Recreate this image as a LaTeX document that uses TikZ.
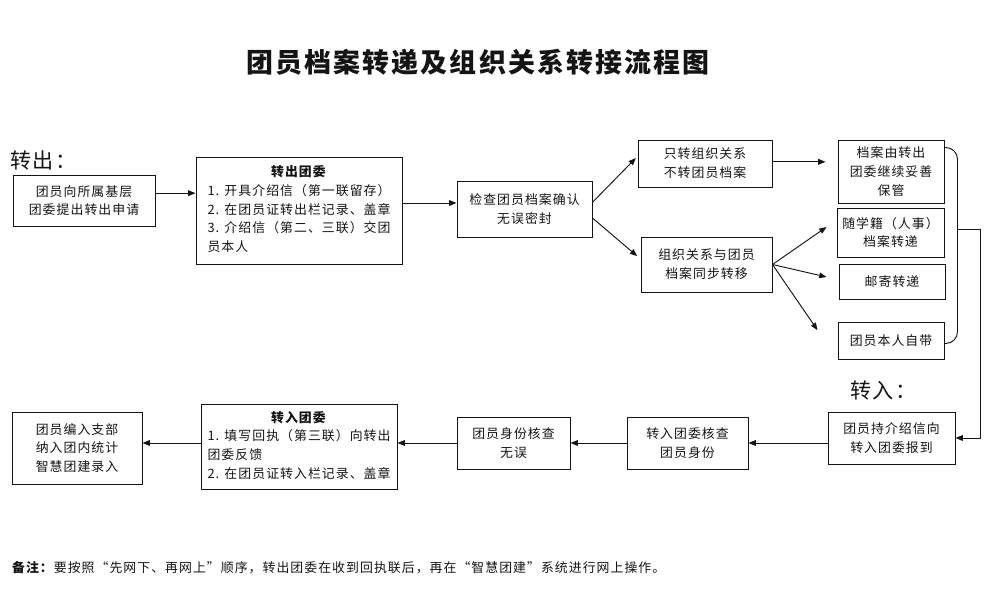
\documentclass[tikz,border=0pt]{standalone}
\usepackage{fontspec}
\setmainfont[LetterSpace=8]{Noto Sans CJK SC}
\usetikzlibrary{arrows.meta}
\definecolor{ink}{HTML}{141414}
\begin{document}
\begin{tikzpicture}[x=0.03cm,y=-0.03cm,font=\fontsize{11pt}{16pt}\selectfont,
  box/.style={draw=ink,line width=0.8pt,inner sep=3pt,align=center,text=ink},
  arr/.style={-{Triangle[length=2.2mm,width=1.7mm]},draw=ink,line width=0.8pt}]
  \useasboundingbox (0,0) rectangle (997,593);
  \node[font=\fontsize{23pt}{26pt}\selectfont\bfseries,text=ink] (title) at (478,62) {团员档案转递及组织关系转接流程图};
  \node[anchor=west,font=\fontsize{18pt}{20pt}\selectfont,text=ink] (outl) at (6,160) {转出：};
  \node[anchor=west,font=\fontsize{18pt}{20pt}\selectfont,text=ink] (inl) at (846,390) {转入：};
  \node[box,minimum width=4.26cm,minimum height=1.53cm] (ap) at (84,200.5) {团员向所属基层\\团委提出转出申请};
  \node[box,minimum width=6.18cm,minimum height=3.21cm] (oc) at (299,210.5) {\begin{tabular}{@{}l@{}}\multicolumn{1}{@{}c@{}}{\textbf{转出团委}}\\1. 开具介绍信（第一联留存）\\2. 在团员证转出栏记录、盖章\\3. 介绍信（第二、三联）交团\\员本人\end{tabular}};
  \node[box,minimum width=4.05cm,minimum height=1.68cm] (ck) at (524.5,209) {检查团员档案确认\\无误密封};
  \node[box,minimum width=4.02cm,minimum height=1.41cm] (og) at (705,163.5) {只转组织关系\\不转团员档案};
  \node[box,minimum width=3.93cm,minimum height=1.65cm] (sy) at (706.5,264.5) {组织关系与团员\\档案同步转移};
  \node[box,minimum width=3.18cm,minimum height=1.89cm] (kp) at (891,171.5) {档案由转出\\团委继续妥善\\保管};
  \node[box,minimum width=3.21cm,minimum height=1.47cm] (fl) at (890.5,232.5) {随学籍（人事）\\档案转递};
  \node[box,minimum width=3.18cm,minimum height=1.05cm] (ml) at (892,281.5) {邮寄转递};
  \node[box,minimum width=3.18cm,minimum height=1.11cm] (sf) at (891,340.5) {团员本人自带};
  \node[box,minimum width=3.81cm,minimum height=1.56cm] (rp) at (891.5,438) {团员持介绍信向\\转入团委报到};
  \node[box,minimum width=3.63cm,minimum height=1.56cm] (vf) at (687.5,443) {转入团委核查\\团员身份};
  \node[box,minimum width=3.39cm,minimum height=1.56cm] (ok) at (513.5,443) {团员身份核查\\无误};
  \node[box,minimum width=5.88cm,minimum height=2.55cm] (ic) at (299,446.5) {\begin{tabular}{@{}l@{}}\multicolumn{1}{@{}c@{}}{\textbf{转入团委}}\\1. 填写回执（第三联）向转出\\团委反馈\\2. 在团员证转入栏记录、盖章\end{tabular}};
  \node[box,minimum width=3.9cm,minimum height=2.16cm] (en) at (77,448) {团员编入支部\\纳入团内统计\\智慧团建录入};
  \node[anchor=west,text=ink] (note) at (8,568) {\textbf{备注：}要按照“先网下、再网上”顺序，转出团委在收到回执联后，再在“智慧团建”系统进行网上操作。};
  \draw[arr] ([yshift=0.22cm]ap.east) -- ([yshift=0.22cm]ap.east -| oc.west);
  \draw[arr] ([yshift=0.18cm]ck.west -| oc.east) -- ([yshift=0.18cm]ck.west);
  \draw[arr] ([yshift=0.2cm]ck.east) -- ([xshift=-0.05cm,yshift=0.165cm]og.west);
  \draw[arr] ([yshift=-0.27cm]ck.east) -- ([xshift=-0.1cm,yshift=0.25cm]sy.west);
  \draw[arr] ([yshift=0.05cm]og.east) -- ([xshift=-0.36cm,yshift=0.05cm]og.east -| kp.west);
  \draw[arr] (sy.east) -- ([xshift=-0.3cm,yshift=0.165cm]fl.west);
  \draw[arr] (sy.east) -- ([xshift=-0.36cm,yshift=0.135cm]ml.west);
  \draw[arr] (sy.east) -- ([xshift=-0.6cm,yshift=0.31cm]sf.west);
  \draw[draw=ink,line width=0.8pt,rounded corners=0.35cm] ([yshift=-0.24cm]kp.north east) -- ++(13,0) |- ([yshift=0.48cm]sf.south east);
  \coordinate (mid) at (957,229);
  \draw[arr] (mid) -- ++(23,0) |- (rp.east);
  \draw[arr] (rp.west |- vf.east) -- (vf.east);
  \draw[arr] (vf.west) -- (vf.west -| ok.east);
  \draw[arr] (ok.west) -- (ok.west -| ic.east);
  \draw[arr] (ic.west |- ok.west) -- (ok.west -| en.east);
\end{tikzpicture}
\end{document}
